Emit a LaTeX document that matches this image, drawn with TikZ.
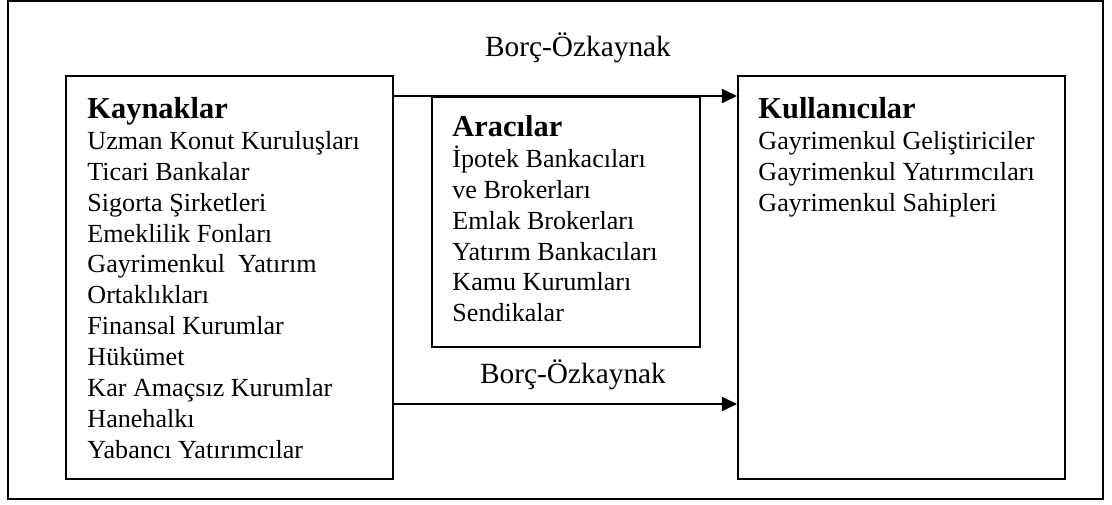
\documentclass[tikz,border=0pt]{standalone}
\usepackage{fontspec}
\setmainfont{Liberation Serif}
\usetikzlibrary{arrows.meta}

\tikzset{
  box/.style={draw, line width=0.9pt, inner sep=0pt, anchor=north west},
  list/.style={align=left, inner sep=0pt, anchor=north west,
    font=\fontsize{12}{14.2}\selectfont},
  flow/.style={line width=0.9pt, -{Triangle[length=7pt,width=6.5pt]}},
  tag/.style={anchor=base, inner sep=0pt, font=\fontsize{13.5}{16}\selectfont},
}
\newcommand{\grouphead}[1]{{\fontsize{14}{14.2}\selectfont\bfseries #1}}

\begin{document}
\begin{tikzpicture}[x=0.46pt, y={(0pt,-0.46pt)}]
  \useasboundingbox (0,0) rectangle (1112,504);
  \draw[line width=0.9pt] (8,1) rectangle (1103,499);

  % the three groups
  \node[box, minimum width=150.4pt, minimum height=185.4pt] (src) at (65,75) {};
  \node[box, minimum width=123.3pt, minimum height=115pt] (mid) at (431,96) {};
  \node[box, minimum width=150.4pt, minimum height=185.4pt] (use) at (737,75) {};

  \node[list] (srclist) at (87,97) {\grouphead{Kaynaklar}\\
    Uzman Konut Kuruluşları\\ Ticari Bankalar\\ Sigorta Şirketleri\\
    Emeklilik Fonları\\ Gayrimenkul\ \ Yatırım\\ Ortaklıkları\\
    Finansal Kurumlar\\ Hükümet\\ Kar Amaçsız Kurumlar\\ Hanehalkı\\
    Yabancı Yatırımcılar};
  \node[list] (midlist) at (452,115) {\grouphead{Aracılar}\\
    İpotek Bankacıları\\ ve Brokerları\\ Emlak Brokerları\\
    Yatırım Bankacıları\\ Kamu Kurumları\\ Sendikalar};
  \node[list] (uselist) at (758,97) {\grouphead{Kullanıcılar}\\
    Gayrimenkul Geliştiriciler\\ Gayrimenkul Yatırımcıları\\
    Gayrimenkul Sahipleri};

  % funds flowing to the users
  \coordinate (low) at (0,404);
  \draw[flow] (src.east |- mid.north) -- (use.west |- mid.north);
  \draw[flow] (src.east |- low) -- (use.west |- low);
  \node[tag] (toptag) at (578,56) {Borç-Özkaynak};
  \node[tag] (lowtag) at (573,383) {Borç-Özkaynak};
\end{tikzpicture}
\end{document}
